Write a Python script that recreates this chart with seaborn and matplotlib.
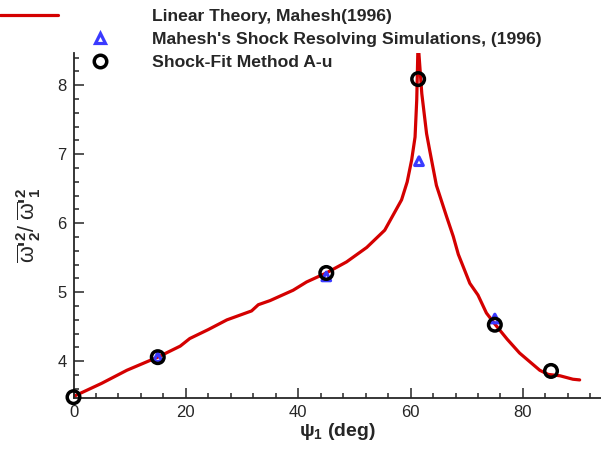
import numpy as np
import pandas as pd
import matplotlib
matplotlib.use("Agg")
import matplotlib.pyplot as plt
import seaborn as sns
from matplotlib.lines import Line2D
from matplotlib.legend_handler import HandlerBase
from matplotlib.ticker import MultipleLocator

# ---------------- data ----------------
psi_theory = [0, 5, 9.5, 15, 19, 20.7, 24, 27.3, 31.7, 32.9, 35, 39.1, 41.5, 45,
              48.6, 52.2, 55.4, 58.4, 59.4, 60.2, 60.8, 61.1, 61.3, 61.35,
              61.45, 62.0, 62.85, 63.4, 64.6, 66.4, 67.6, 68.5, 70.55, 72.0,
              73.5, 75.1, 77.2, 79.4, 83.0, 84.5, 86.6, 88.9, 90.1]
ratio_theory = [3.49, 3.68, 3.87, 4.06, 4.22, 4.33, 4.46, 4.60, 4.73, 4.82, 4.88, 5.03, 5.15, 5.28,
                5.44, 5.65, 5.90, 6.34, 6.60, 6.92, 7.25, 7.79, 8.5, 9.5,
                8.5, 7.88, 7.30, 7.06, 6.55, 6.10, 5.81, 5.55, 5.13, 4.96,
                4.70, 4.53, 4.32, 4.12, 3.87, 3.81, 3.79, 3.74, 3.73]

psi_sim = [15, 45, 61.5, 75]
ratio_sim = [4.06, 5.23, 6.90, 4.62]

psi_fit = [0, 15, 45, 61.35, 75, 85]
ratio_fit = [3.48, 4.06, 5.28, 8.09, 4.53, 3.86]

labels = ["Linear Theory, Mahesh(1996)",
          "Mahesh's Shock Resolving Simulations, (1996)",
          "Shock-Fit Method A-u"]

RED = "#d40000"
BLUE = "#3a3aff"

# ---------------- style ----------------
sns.set_style("ticks")
plt.rcParams["font.family"] = ["Liberation Sans", "DejaVu Sans"]
plt.rcParams["mathtext.fontset"] = "custom"
plt.rcParams["mathtext.rm"] = "Liberation Sans"
plt.rcParams["mathtext.it"] = "Liberation Sans"
plt.rcParams["mathtext.bf"] = "Liberation Sans:bold"

fig = plt.figure(figsize=(6.01, 4.54), dpi=100)
ax = fig.add_axes([73.5 / 601, 56 / 454, 1 - 73.5 / 601, 345 / 454])

sns.lineplot(x=psi_theory, y=ratio_theory, sort=False, estimator=None,
             color=RED, linewidth=2.3, ax=ax, zorder=2)
ax.scatter(psi_sim, ratio_sim, marker="^", s=38, facecolors="none",
           edgecolors=BLUE, linewidths=2.3, zorder=3)
ax.scatter(psi_fit, ratio_fit, marker="o", s=82, facecolors="none",
           edgecolors="black", linewidths=2.5, zorder=4, clip_on=False)

ax.set_xlim(0, 93.9)
ax.set_ylim(3.468, 8.468)
sns.despine(ax=ax, top=True, right=True)
for s in ("left", "bottom"):
    ax.spines[s].set_linewidth(1.3)

ax.xaxis.set_major_locator(MultipleLocator(20))
ax.xaxis.set_minor_locator(MultipleLocator(4))
ax.yaxis.set_major_locator(MultipleLocator(1))
ax.yaxis.set_minor_locator(MultipleLocator(0.2))
ax.tick_params(which="both", direction="in", width=1.1, labelsize=12)
ax.tick_params(which="major", length=7, pad=5)
ax.tick_params(which="minor", length=3.6)

ax.set_xlabel(r"$\mathbf{\psi_1}$ (deg)", fontsize=14, fontweight="bold", labelpad=1)
ax.set_ylabel(r"$\overline{\omega}\mathbf{'^2_2}$/ $\overline{\omega}\mathbf{'^2_1}$",
              fontsize=15.5, labelpad=10)

# ---------------- legend ----------------
class SegHandler(HandlerBase):
    def __init__(self, x0, x1=None):
        super().__init__()
        self.x0, self.x1 = x0, x1

    def create_artists(self, legend, orig, xd, yd, w, h, fs, trans):
        y = h / 2 - yd
        if self.x1 is None:
            ln = Line2D([self.x0 * w - xd], [y])
        else:
            ln = Line2D([self.x0 * w - xd, self.x1 * w - xd], [y, y])
        ln.update_from(orig)
        ln.set_transform(trans)
        return [ln]

h_line = Line2D([], [], color=RED, linewidth=2.3)
h_sim = Line2D([], [], ls="none", marker="^", markersize=7, markerfacecolor="none",
               markeredgecolor=BLUE, markeredgewidth=2.3)
h_fit = Line2D([], [], ls="none", marker="o", markersize=9, markerfacecolor="none",
               markeredgecolor="black", markeredgewidth=2.5)

leg = fig.legend([h_line, h_sim, h_fit], labels, loc="upper left",
                 bbox_to_anchor=(-8.6 / 601, 1.0), frameon=False,
                 prop={"family": "Liberation Sans", "weight": "bold", "size": 12.6},
                 handlelength=8.09, handletextpad=0.6, borderpad=0.49,
                 borderaxespad=0, labelspacing=0.44,
                 handler_map={h_line: SegHandler(0.0, 0.41),
                              h_sim: SegHandler(0.707),
                              h_fit: SegHandler(0.707)})

fig.savefig("out.png", dpi=100)
